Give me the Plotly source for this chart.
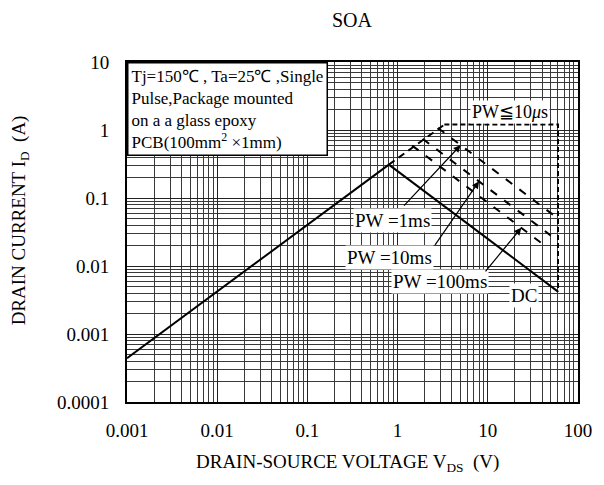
import numpy as np
import plotly.graph_objects as go

# ---- data ----
x_tick_vals = [0.001, 0.01, 0.1, 1, 10, 100]
x_tick_text = ["0.001", "0.01", "0.1", "1", "10", "100"]
y_tick_vals = [0.0001, 0.001, 0.01, 0.1, 1, 10]
y_tick_text = ["0.0001", "0.001", "0.01", "0.1", "1", "10"]

# R_DS(on) limited line (solid part) and its dashed extension
ohm_v = [0.001, 0.8]
ohm_i = [0.00044, 0.31]
ohm_ext_v = [0.8, 3.3]
ohm_ext_i = [0.31, 1.2]

# PW <= 10us boundary
pw10us_v = [3.3, 60, 60]
pw10us_i = [1.2, 1.2, 0.0042]

# DC line
dc_v = [0.8, 60]
dc_i = [0.31, 0.0042]

# pulse lines
pw1ms_v = [2.8, 60]
pw1ms_i = [1.07, 0.05]
pw10ms_v = [1.9, 50]
pw10ms_i = [0.74, 0.028]
pw100ms_v = [1.45, 45]
pw100ms_i = [0.59, 0.019]

FONT = "Liberation Serif, Times New Roman, serif"

fig = go.Figure()

def line(v, i, dash="solid", width=2):
    fig.add_trace(go.Scatter(x=v, y=i, mode="lines", showlegend=False, hoverinfo="skip",
                             line=dict(color="black", width=width, dash=dash)))

line(ohm_v, ohm_i)
line(dc_v, dc_i)
line(ohm_ext_v, ohm_ext_i, dash="7px,5px")
line(pw10us_v, pw10us_i, dash="5px,3px")
line(pw1ms_v, pw1ms_i, dash="8px,9px")
line(pw10ms_v, pw10ms_i, dash="8px,9px")
line(pw100ms_v, pw100ms_i, dash="8px,9px")

grid_major = "#222222"
grid_minor = "#3a3a3a"

fig.update_xaxes(type="log", range=[-3, 2], tickmode="array", tickvals=x_tick_vals, ticktext=x_tick_text,
                 showgrid=True, gridcolor=grid_major, gridwidth=1.3,
                 minor=dict(dtick="D1", showgrid=True, gridcolor=grid_minor, gridwidth=1),
                 showline=True, linecolor="black", linewidth=2, mirror=True,
                 ticks="", ticklabelstandoff=10, zeroline=False,
                 tickfont=dict(family=FONT, size=19, color="black"))
fig.update_yaxes(type="log", range=[-4, 1], tickmode="array", tickvals=y_tick_vals, ticktext=y_tick_text,
                 showgrid=True, gridcolor=grid_major, gridwidth=1.3,
                 minor=dict(dtick="D1", showgrid=True, gridcolor=grid_minor, gridwidth=1),
                 showline=True, linecolor="black", linewidth=2, mirror=True,
                 ticks="", ticklabelstandoff=12, zeroline=False,
                 tickfont=dict(family=FONT, size=19, color="black"))

L, R, T, B = 127, 16, 62, 83
W, H = 604, 485
pw = W - L - R
ph = H - T - B

def px_x(px):
    return (px - L) / pw

def px_y(py):
    return (H - B - py) / ph

ann = []
# title
ann.append(dict(text="SOA", xref="paper", yref="paper", x=px_x(357), y=px_y(20),
                xanchor="center", yanchor="middle", showarrow=False,
                font=dict(family=FONT, size=20, color="black")))
# axis titles
ann.append(dict(text="DRAIN-SOURCE VOLTAGE V<sub>DS</sub>  (V)", xref="paper", yref="paper",
                x=px_x(352), y=px_y(463), xanchor="center", yanchor="middle", showarrow=False,
                font=dict(family=FONT, size=19, color="black")))
ann.append(dict(text="DRAIN CURRENT I<sub>D</sub>  (A)", xref="paper", yref="paper",
                x=px_x(18), y=px_y(220), xanchor="center", yanchor="middle", showarrow=False,
                textangle=-90, font=dict(family=FONT, size=19, color="black")))
# condition box
ann.append(dict(text="Tj=150℃ , Ta=25℃ ,Single<br>Pulse,Package mounted<br>on a a glass epoxy<br>PCB(100mm<sup>2</sup> ×1mm)",
                xref="paper", yref="paper", x=0, y=1, xanchor="left", yanchor="top",
                align="left", valign="top", showarrow=False, bgcolor="white",
                bordercolor="black", borderwidth=1.5, borderpad=3,
                font=dict(family=FONT, size=17, color="black")))

def lbl(text, v, i, size=19):
    ann.append(dict(text=text, x=np.log10(v), y=np.log10(i), xref="x", yref="y",
                    xanchor="center", yanchor="middle", showarrow=False, bgcolor="white",
                    borderpad=1, font=dict(family=FONT, size=size, color="black")))

lbl("PW≦10<i>μ</i>s", 17.4, 1.84, 18)
lbl("PW =1ms", 0.87, 0.0474)
lbl("PW =10ms", 0.81, 0.01355)
lbl("PW =100ms", 2.95, 0.00582)
lbl("DC", 25.5, 0.00363)

def arrow(v_line, i_line, v_tip, ax, ay):
    p = v_line[0] * i_line[0]
    ann.append(dict(text="", x=np.log10(v_tip), y=np.log10(p / v_tip), xref="x", yref="y",
                    showarrow=True, arrowhead=2, arrowsize=1.2, arrowwidth=1.2, arrowcolor="black",
                    ax=ax, ay=ay, standoff=0))

arrow(pw1ms_v, pw1ms_i, 5.0, -58, 62)
arrow(pw10ms_v, pw10ms_i, 8.0, -45, 65)
arrow(pw100ms_v, pw100ms_i, 23.5, -37, 45)

fig.update_layout(width=W, height=H, margin=dict(l=L, r=R, t=T, b=B),
                  paper_bgcolor="white", plot_bgcolor="white", annotations=ann,
                  font=dict(family=FONT, color="black"))

fig.write_html("out.html", config={"displayModeBar": False},
               post_script="document.body.style.margin='0';document.body.style.overflow='hidden';")
